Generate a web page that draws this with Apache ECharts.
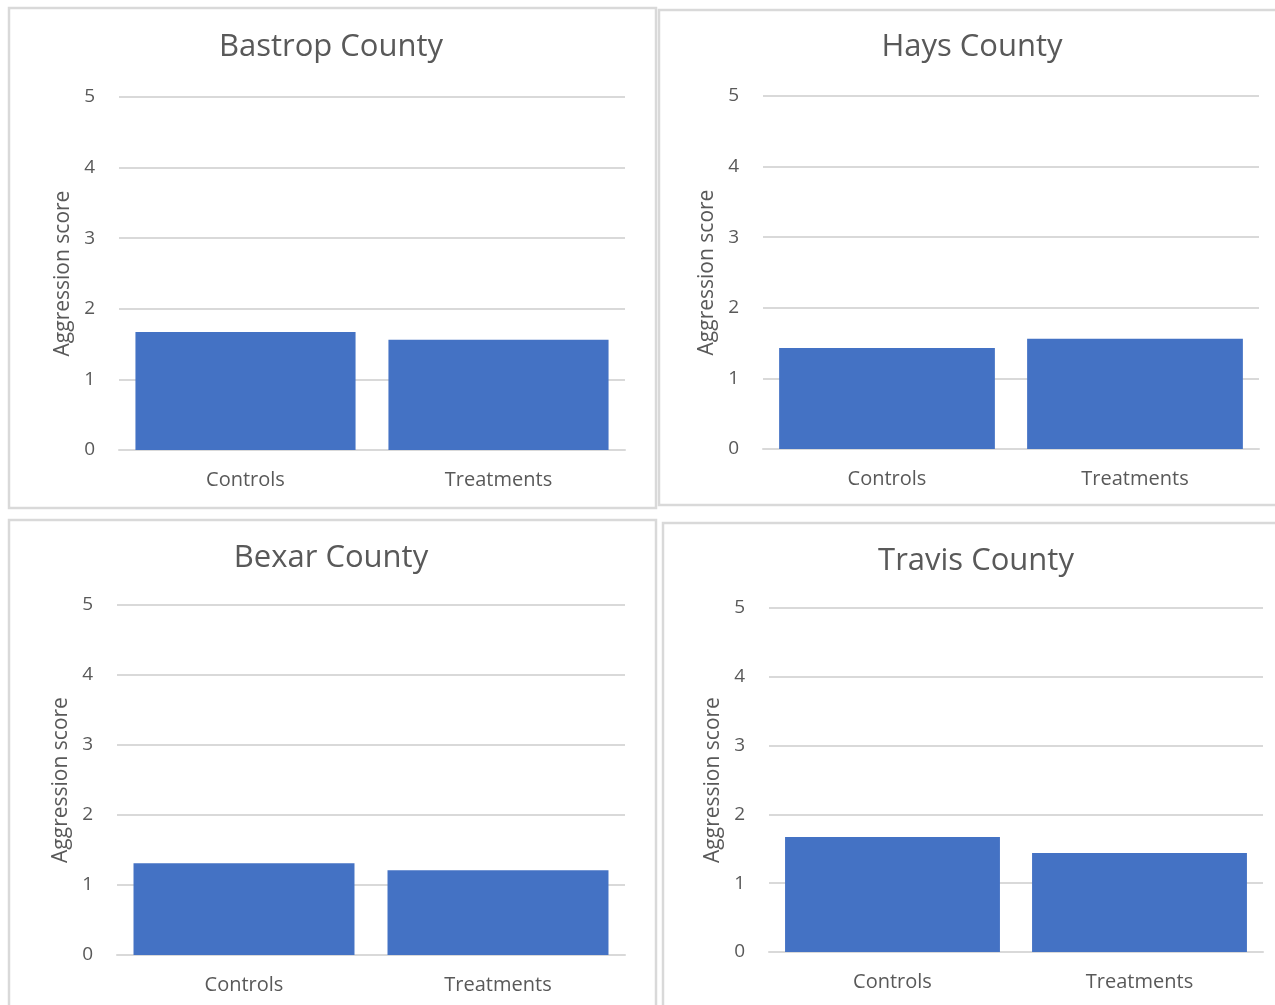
<!DOCTYPE html>
<html>
<head>
<meta charset="utf-8">
<script src="https://cdn.jsdelivr.net/npm/echarts@6/dist/echarts.min.js"></script>
<style>
  html, body { margin: 0; padding: 0; background: #ffffff; }
  #chart { width: 1275px; height: 1005px; }
</style>
</head>
<body>
<div id="chart"></div>
<script>
// Mean aggression scores by group, one panel per county
const counties = ['Bastrop County', 'Hays County', 'Bexar County', 'Travis County'];
const groups = ['Controls', 'Treatments'];
const bastropScores = [1.67, 1.56];
const haysScores = [1.43, 1.56];
const bexarScores = [1.31, 1.21];
const travisScores = [1.67, 1.44];
const yTicks = [0, 1, 2, 3, 4, 5];
const yAxisTitle = 'Aggression score';

const panelScores = [bastropScores, haysScores, bexarScores, travisScores];

// Layout of each panel: frame box and plot area (page pixels)
const panels = [
  { frame: [9, 8, 647, 500],   grid: { left: 119, top: 97,  width: 506, height: 353 }, titleX: 326, titleY: 27 },
  { frame: [659, 10, 640, 495], grid: { left: 763, top: 96,  width: 496, height: 353 }, titleX: 967, titleY: 27 },
  { frame: [9, 520, 647, 500],  grid: { left: 117, top: 605, width: 508, height: 350 }, titleX: 326, titleY: 538 },
  { frame: [663, 523, 640, 500], grid: { left: 769, top: 608, width: 494, height: 344 }, titleX: 971, titleY: 541 }
];

const FONT = '"Open Sans", "Noto Sans", sans-serif';
const TEXT = '#595959';
const GRIDLINE = '#d9d9d9';
const BAR = '#4472c4';

const option = {
  backgroundColor: '#ffffff',
  animation: false,
  textStyle: { fontFamily: FONT },
  graphic: panels.map(p => ({
    type: 'rect',
    shape: { x: p.frame[0], y: p.frame[1], width: p.frame[2], height: p.frame[3] },
    style: { fill: 'none', stroke: GRIDLINE, lineWidth: 2.5 },
    silent: true,
    z: -1
  })),
  title: panels.map((p, i) => ({
    text: counties[i],
    left: p.titleX,
    top: p.titleY,
    textAlign: 'center',
    textStyle: { fontFamily: FONT, fontSize: 31, fontWeight: 'normal', color: TEXT }
  })),
  grid: panels.map(p => Object.assign({ containLabel: false }, p.grid)),
  xAxis: panels.map((p, i) => ({
    type: 'category',
    gridIndex: i,
    data: groups,
    axisLine: { show: true, lineStyle: { color: GRIDLINE, width: 2 } },
    axisTick: { show: false },
    axisLabel: { color: TEXT, fontSize: 20, fontFamily: FONT, margin: 20 }
  })),
  yAxis: panels.map((p, i) => ({
    type: 'value',
    gridIndex: i,
    min: yTicks[0],
    max: yTicks[yTicks.length - 1],
    interval: 1,
    name: yAxisTitle,
    nameLocation: 'middle',
    nameGap: 45,
    nameTextStyle: { color: TEXT, fontSize: 21, fontFamily: FONT },
    axisLine: { show: false },
    axisTick: { show: false },
    axisLabel: { color: TEXT, fontSize: 19, fontFamily: FONT, margin: 24 },
    splitLine: { lineStyle: { color: GRIDLINE, width: 2 } }
  })),
  series: panels.map((p, i) => ({
    type: 'bar',
    xAxisIndex: i,
    yAxisIndex: i,
    data: panelScores[i],
    barCategoryGap: '13%',
    itemStyle: { color: BAR },
    z: 3
  }))
};

const chart = echarts.init(document.getElementById('chart'), null, { renderer: 'canvas' });
chart.setOption(option);
</script>
</body>
</html>
